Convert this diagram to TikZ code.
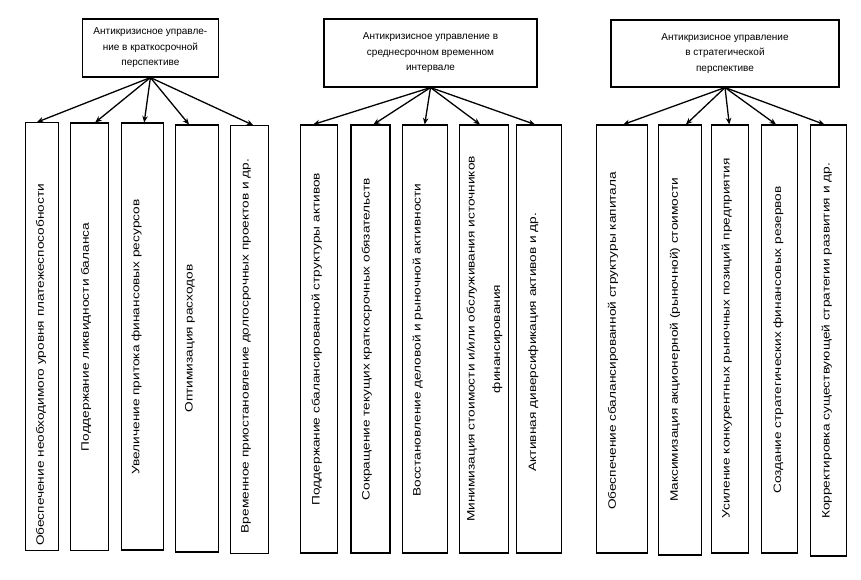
\documentclass[tikz,border=0pt]{standalone}
\usepackage{fontspec}
\setmainfont{Liberation Sans}
\usetikzlibrary{arrows.meta}
\newcommand{\vtxt}[1]{\scalebox{1.27}[1]{#1}}
\tikzset{
  topbox/.style={draw, line width=1.1pt, inner sep=0pt, align=center,
    font=\fontsize{10}{15.5}\selectfont},
  itembox/.style={draw, line width=1.1pt, inner sep=0pt},
  vtext/.style={rotate=90, inner sep=0pt, align=center,
    font=\fontsize{10.75}{25.6}\selectfont},
  conn/.style={line width=1.3pt, -{Stealth[length=6.5pt,width=5.5pt]}}
}
\begin{document}
\begin{tikzpicture}[x=1pt,y=-1pt]
\useasboundingbox (0,0) rectangle (861,580);
% top boxes
\node[topbox, minimum width=135.3pt, minimum height=58pt] (t1) at (150.4,48)
  {Антикризисное управле-\\ние в краткосрочной\\перспективе};
\node[topbox, minimum width=213pt, minimum height=68pt] (t2) at (430.5,53)
  {Антикризисное управление в\\среднесрочном временном\\интервале};
\node[topbox, minimum width=228pt, minimum height=67pt] (t3) at (725,53.5)
  {Антикризисное управление\\в стратегической\\перспективе};
% group 1 boxes
\node[itembox, minimum width=32.6pt, minimum height=428pt] (b11) at (42,336.7) {};
\node[itembox, minimum width=38.3pt, minimum height=427.7pt] (b12) at (89.2,336.9) {};
\node[itembox, minimum width=42.3pt, minimum height=427pt] (b13) at (142.2,336.5) {};
\node[itembox, minimum width=42.6pt, minimum height=427pt] (b14) at (197,338.5) {};
\node[itembox, minimum width=38.3pt, minimum height=427.3pt] (b15) at (249.2,339.4) {};
% group 2 boxes
\node[itembox, minimum width=37.7pt, minimum height=428pt] (b21) at (318.9,339) {};
\node[itembox, minimum width=39pt, minimum height=428pt] (b22) at (370.5,339) {};
\node[itembox, minimum width=45.3pt, minimum height=428pt] (b23) at (424.7,339) {};
\node[itembox, minimum width=49.4pt, minimum height=428pt] (b24) at (484,339) {};
\node[itembox, minimum width=45.4pt, minimum height=428pt] (b25) at (539,339) {};
% group 3 boxes
\node[itembox, minimum width=51.7pt, minimum height=428pt] (b31) at (621.9,339) {};
\node[itembox, minimum width=42.3pt, minimum height=430pt] (b32) at (679.9,340) {};
\node[itembox, minimum width=36.6pt, minimum height=428pt] (b33) at (730,339) {};
\node[itembox, minimum width=35.6pt, minimum height=428pt] (b34) at (779.5,339) {};
\node[itembox, minimum width=36.7pt, minimum height=431pt] (b35) at (828.4,340.5) {};
% texts
\node[vtext] (x11) at (41,365) {\vtxt{Обеспечение необходимого уровня платежеспособности}};
\node[vtext] (x12) at (86,337) {\vtxt{Поддержание ликвидности баланса}};
\node[vtext] (x13) at (136.7,337) {\vtxt{Увеличение притока финансовых ресурсов}};
\node[vtext] (x14) at (190,338.5) {\vtxt{Оптимизация расходов}};
\node[vtext] (x15) at (246,346) {\vtxt{Временное приостановление долгосрочных проектов и др.}};
\node[vtext] (x21) at (316.7,339) {\vtxt{Поддержание сбалансированной структуры активов}};
\node[vtext] (x22) at (366.7,339) {\vtxt{Сокращение текущих краткосрочных обязательств}};
\node[vtext] (x23) at (417.7,340) {\vtxt{Восстановление деловой и рыночной активности}};
\node[vtext] (x24) at (484.5,339) {\vtxt{Минимизация стоимости и/или обслуживания источников}\\\vtxt{финансирования}};
\node[vtext] (x25) at (533.3,342) {\vtxt{Активная диверсификация активов и др.}};
\node[vtext] (x31) at (613,341) {\vtxt{Обеспечение сбалансированной структуры капитала}};
\node[vtext] (x32) at (675,340) {\vtxt{Максимизация акционерной (рыночной) стоимости}};
\node[vtext] (x33) at (726.7,338.5) {\vtxt{Усиление конкурентных рыночных позиций предприятия}};
\node[vtext] (x34) at (778.3,340) {\vtxt{Создание стратегических финансовых резервов}};
\node[vtext] (x35) at (826.7,341) {\vtxt{Корректировка существующей стратегии развития и др.}};
% connectors
\draw[conn] (t1.south) -- ([xshift=-5pt]b11.north);
\draw[conn] (t1.south) -- ([xshift=6pt]b12.north);
\draw[conn] (t1.south) -- ([xshift=2pt]b13.north);
\draw[conn] (t1.south) -- ([xshift=-8pt]b14.north);
\draw[conn] (t1.south) -- ([xshift=4pt]b15.north);
\draw[conn] (t2.south) -- ([xshift=-5.6pt]b21.north);
\draw[conn] (t2.south) -- ([xshift=3pt]b22.north);
\draw[conn] (t2.south) -- (b23.north);
\draw[conn] (t2.south) -- ([xshift=-4pt]b24.north);
\draw[conn] (t2.south) -- ([xshift=-4pt]b25.north);
\draw[conn] (t3.south) -- ([xshift=1.4pt]b31.north);
\draw[conn] (t3.south) -- ([xshift=6pt]b32.north);
\draw[conn] (t3.south) -- ([xshift=-0.7pt]b33.north);
\draw[conn] (t3.south) -- ([xshift=-3.5pt]b34.north);
\draw[conn] (t3.south) -- ([xshift=-4pt]b35.north);
\end{tikzpicture}
\end{document}
